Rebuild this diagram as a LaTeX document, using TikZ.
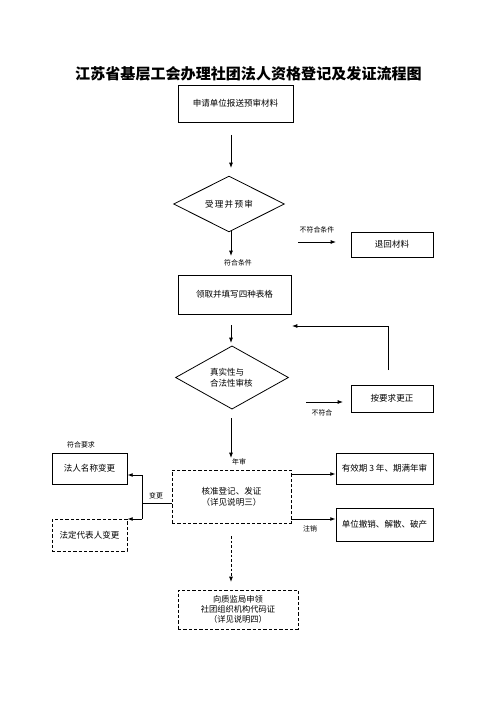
\documentclass[tikz,border=0pt]{standalone}
\usepackage{fontspec}
\newfontfamily\cjk{Noto Sans CJK SC}
\usetikzlibrary{arrows.meta,shapes.geometric,calc}
\tikzset{
  box/.style={draw,line width=0.6pt,inner sep=0pt,font=\cjk\fontsize{6.4}{8.5}\selectfont,align=center},
  dbox/.style={box,dashed,dash pattern=on 2.5pt off 1.5pt},
  dia/.style={draw,line width=0.6pt,diamond,inner sep=0pt,font=\cjk\fontsize{6.4}{8.5}\selectfont},
  lab/.style={font=\cjk\fontsize{5.2}{6}\selectfont,inner sep=0pt},
  arr/.style={line width=0.7pt,-{Latex[length=4pt,width=3pt]}},
  darr/.style={arr,dash pattern=on 2pt off 1.5pt}
}
\begin{document}
\begin{tikzpicture}[x=0.75pt,y=-0.75pt]
\useasboundingbox (0,0) rectangle (496,702);
\node[font=\cjk\bfseries\fontsize{11.3}{13}\selectfont,inner sep=0pt] (title) at (248.5,74) {江苏省基层工会办理社团法人资格登记及发证流程图};
\node[box,minimum width=86.25pt,minimum height=27.75pt] (b1) at (235.5,103.5) {申请单位报送预审材料};
\node[dia,minimum width=83.25pt,minimum height=39pt] (d1) at (229,204) {\addfontfeature{LetterSpace=15}受理并预审};
\node[box,minimum width=61.5pt,minimum height=18.75pt] (back) at (392,244.5) {退回材料};
\node[box,minimum width=84.75pt,minimum height=29.25pt] (b2) at (234.5,294.5) {领取并填写四种表格};
\node[dia,minimum width=84.75pt,minimum height=38.25pt,align=left] (d2) at (232,377.5) {\raisebox{2pt}{\parbox{33pt}{真实性与\\合法性审核}}};
\node[box,minimum width=61.5pt,minimum height=20.25pt] (fix) at (392,398.5) {按要求更正};
\node[dbox,minimum width=89.25pt,minimum height=39.75pt] (core) at (231.5,496.5) {核准登记、发证\\（详见说明三）};
\node[box,minimum width=56.25pt,minimum height=23.25pt] (name) at (89.5,468.5) {法人名称变更};
\node[dbox,minimum width=56.25pt,minimum height=24pt] (rep) at (89.5,535) {法定代表人变更};
\node[box,minimum width=72.75pt,minimum height=23.25pt] (valid) at (384.5,468.5) {有效期 3 年、期满年审};
\node[box,minimum width=72.75pt,minimum height=24.75pt] (cancel) at (384.5,524.5) {单位撤销、解散、破产};
\node[dbox,minimum width=90pt,minimum height=29.25pt,font=\cjk\fontsize{6.2}{7.6}\selectfont] (cert) at (238,609.5) {向质监局申领\\社团组织机构代码证\\（详见说明四）};
% labels
\node[lab] (l1) at (238,263) {符合条件};
\node[lab] (l2) at (317,230) {不符合条件};
\node[lab] (l3) at (322,413) {不符合};
\node[lab] (l4) at (81,445) {符合要求};
\node[lab] (l5) at (239,462) {年审};
\node[lab] (l6) at (156,496) {变更};
\node[lab] (l7) at (310,529) {注销};
% coordinates
\coordinate (a1s) at (231,135); \coordinate (a1e) at (231,168);
\coordinate (a2s) at (231,230); \coordinate (a2e) at (231,256);
\coordinate (a3s) at (298,242); \coordinate (a3e) at (336,242);
\coordinate (a4s) at (231,325); \coordinate (a4e) at (231,343);
\coordinate (fb1) at (388,370); \coordinate (fb2) at (388,326); \coordinate (fb3) at (292,326);
\coordinate (a5s) at (306,402); \coordinate (a5e) at (343,402);
\coordinate (a6s) at (231,418); \coordinate (a6e) at (231,458);
\coordinate (j) at (142,503); \coordinate (ja) at (142,475); \coordinate (jb) at (142,519);
\coordinate (r1) at (0,474); \coordinate (r2) at (0,519);
\coordinate (a7s) at (231,536); \coordinate (a7e) at (231,582);
% connectors
\draw[arr] (a1s) -- (a1e);
\draw[arr] (a2s) -- (a2e);
\draw[arr] (a3s) -- (a3e);
\draw[arr] (a4s) -- (a4e);
\draw[arr] (fb1) -- (fb2) -- (fb3);
\draw[arr] (a5s) -- (a5e);
\draw[arr] (a6s) -- (a6e);
\draw[line width=0.7pt] (core.west |- j) -- (j);
\draw[line width=0.7pt] (ja) -- (jb);
\draw[arr] (ja) -- (ja -| name.east);
\draw[arr] (jb) -- (jb -| rep.east);
\draw[arr] (core.east |- r1) -- (valid.west |- r1);
\draw[arr] (core.east |- r2) -- (cancel.west |- r2);
\draw[darr] (a7s) -- (a7e);
\end{tikzpicture}
\end{document}
